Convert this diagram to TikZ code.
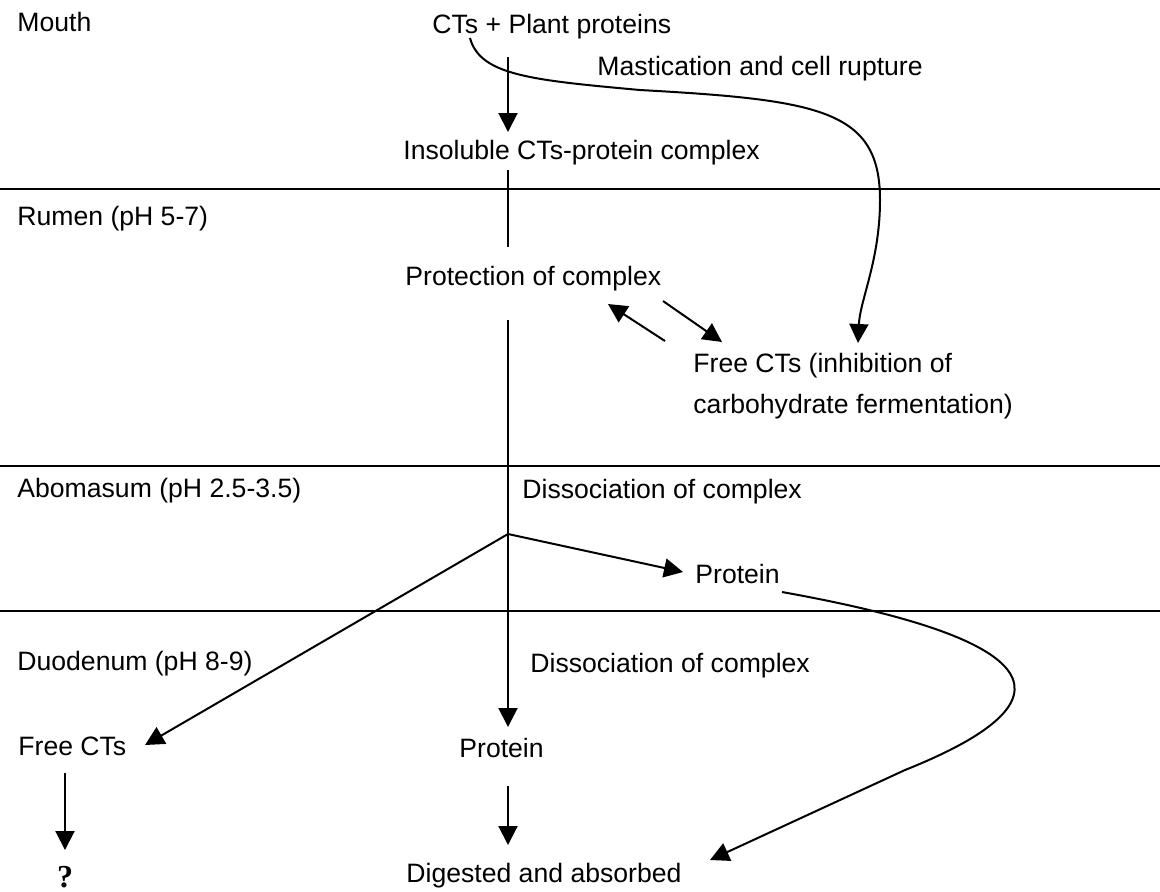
\documentclass[tikz,border=0pt]{standalone}
\usepackage{fontspec}
\setmainfont{Liberation Sans}
\newfontfamily\qfont{Liberation Serif}
\usetikzlibrary{arrows.meta}

\begin{document}
\begin{tikzpicture}
    [
    x=0.5pt,y=-0.5pt,
    font=\fontsize{13.3}{16}\selectfont,
    txt/.style={anchor=base west,inner sep=0pt},
    qmark/.style={anchor=base,inner sep=0pt,font=\qfont\bfseries\fontsize{16}{18}\selectfont},
    rule/.style={line width=1pt},
    arr/.style={line width=1pt,-{Triangle[length=9.5pt,width=9.5pt]}}
    ]
    \useasboundingbox (0,0) rectangle (1160,891);
    % section labels
    \node (mouth) at (17,31) [txt] {Mouth};
    \node (rumen) at (17,225) [txt] {Rumen (pH 5-7)};
    \node (aboma) at (17,497) [txt] {Abomasum (pH 2.5-3.5)};
    \node (duode) at (17,670) [txt] {Duodenum (pH 8-9)};
    \node (freel) at (18,755) [txt] {Free CTs};
    \node (quest) at (65,887) [qmark] {?};
    % section borders
    \coordinate (r1w) at (0,189);   \coordinate (r1e) at (1160,189);
    \coordinate (r2w) at (0,466);   \coordinate (r2e) at (1160,466);
    \coordinate (r3w) at (0,611);   \coordinate (r3e) at (1160,611);
    \draw [rule] (r1w) -- (r1e);
    \draw [rule] (r2w) -- (r2e);
    \draw [rule] (r3w) -- (r3e);
    % texts
    \node (plant) at (432,33) [txt] {CTs + Plant proteins};
    \node (mast) at (597,75) [txt] {Mastication and cell rupture};
    \node (insol) at (403,159) [txt] {Insoluble CTs-protein complex};
    \node (protc) at (405,285) [txt] {Protection of complex};
    \node (freer) at (693,372) [txt] {Free CTs (inhibition of};
    \node (carbo) at (693,413) [txt] {carbohydrate fermentation)};
    \node (dissa) at (522,498) [txt] {Dissociation of complex};
    \node (protr) at (695,583) [txt] {Protein};
    \node (dissd) at (530,672) [txt] {Dissociation of complex};
    \node (protm) at (459,757) [txt] {Protein};
    \node (diges) at (406,882) [txt] {Digested and absorbed};
    % arrow ends
    \coordinate (plant-s) at (508,57);  \coordinate (insol-n) at (508,132);
    \coordinate (insol-s) at (508,170); \coordinate (protc-n) at (508,247);
    \coordinate (protc-s) at (508,320); \coordinate (protm-n) at (508,727);
    \coordinate (protm-s) at (508,786); \coordinate (diges-n) at (508,845);
    \coordinate (freel-s) at (65,773);  \coordinate (quest-n) at (65,850);
    \coordinate (split) at (508,534);
    \coordinate (freel-e) at (145,745); \coordinate (protr-w) at (683,572);
    \coordinate (back1) at (665,341);   \coordinate (back2) at (608,304);
    \coordinate (free1) at (663,301);   \coordinate (free2) at (722,342);
    \coordinate (chew) at (470,38);     \coordinate (freer-n) at (858,343);
    \coordinate (protr-e) at (782,592); \coordinate (diges-e) at (710,860);
    % main line
    \draw [arr] (plant-s) -- (insol-n);
    \draw [rule] (insol-s) -- (protc-n);
    \draw [arr] (protc-s) -- (protm-n);
    \draw [arr] (protm-s) -- (diges-n);
    \draw [arr] (freel-s) -- (quest-n);
    \draw [arr] (back1) -- (back2);
    \draw [arr] (free1) -- (free2);
    \draw [arr] (split) -- (freel-e);
    \draw [arr] (split) -- (protr-w);
    % curved ones
    \draw [arr] (chew) .. controls (480,75) and (530,80) .. (640,90)
        .. controls (820,100) and (880,110) .. (880,200)
        .. controls (880,260) and (860,300) .. (freer-n);
    \draw [arr] (protr-e) .. controls (1050,640) and (1080,700) .. (905,770)
        -- (diges-e);
  \end{tikzpicture}
\end{document}
